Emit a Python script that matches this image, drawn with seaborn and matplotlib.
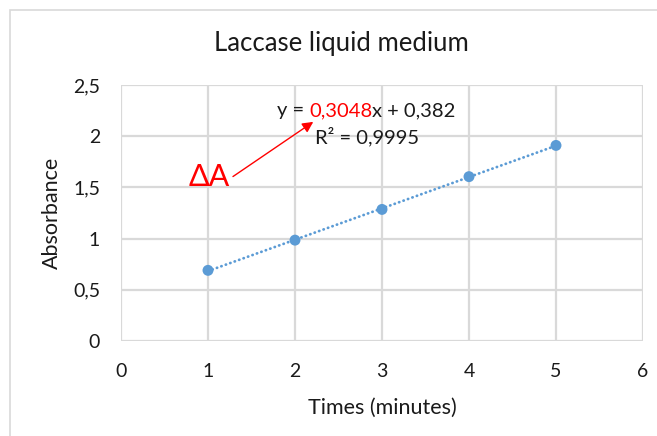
import numpy as np
import pandas as pd
import matplotlib
matplotlib.use("Agg")
import matplotlib.pyplot as plt
from matplotlib.patches import Rectangle
from matplotlib.ticker import FuncFormatter
import seaborn as sns

# data
times = [1, 2, 3, 4, 5]
absorbance = [0.69, 0.985, 1.285, 1.605, 1.91]
x_ticks = [0, 1, 2, 3, 4, 5, 6]
y_ticks = [0, 0.5, 1, 1.5, 2, 2.5]

df = pd.DataFrame({"Times (minutes)": times, "Absorbance": absorbance})

sns.set_theme(style="white")
plt.rcParams["font.family"] = ["Lato", "DejaVu Sans"]

blue = "#5b9bd5"
grid_c = "#d9d9d9"
dark = "#1a1a1a"

fig = plt.figure(figsize=(6.57, 4.36), dpi=100)
ax = fig.add_axes([121 / 657, 1 - 341 / 436, (643 - 121) / 657, (341 - 85) / 436])

# chart frame (Excel style), runs off the right and bottom edge
fig.patches.append(Rectangle((9.5 / 657, -0.1), 1.2, 1.1 - 10 / 436,
                             transform=fig.transFigure, fill=False,
                             edgecolor=grid_c, lw=1.2))

# linear trendline + points
sns.regplot(data=df, x="Times (minutes)", y="Absorbance", ax=ax, ci=None,
            scatter=False, color=blue,
            line_kws=dict(lw=2, linestyle=(0, (0.1, 1.6)),
                          dash_capstyle="round"))
sns.scatterplot(data=df, x="Times (minutes)", y="Absorbance", ax=ax,
                color=blue, s=62, edgecolor="none", zorder=3)

ax.set_xlim(0, 6)
ax.set_ylim(0, 2.5)
ax.set_xticks(x_ticks)
ax.set_yticks(y_ticks)
fmt = FuncFormatter(lambda v, p: f"{v:g}".replace(".", ","))
ax.xaxis.set_major_formatter(fmt)
ax.yaxis.set_major_formatter(fmt)
ax.grid(True, color=grid_c, lw=1.6)
ax.set_axisbelow(True)
for s in ax.spines.values():
    s.set_visible(False)
ax.tick_params(axis="both", length=0, labelsize=14, labelcolor=dark)
ax.tick_params(axis="x", pad=16)
ax.tick_params(axis="y", pad=15)

ax.set_xlabel("Times (minutes)", fontsize=15.5, color=dark, labelpad=13)
ax.set_ylabel("Absorbance", fontsize=15.5, color=dark, labelpad=8)
fig.text(341 / 657, 1 - 43 / 436, "Laccase liquid medium", ha="center",
         va="center", fontsize=18.5, color=dark)

# trendline equation, slope highlighted in red
eq_size = 14.5
t1 = ax.text(1.79, 2.197, "y = ", fontsize=eq_size, color=dark, ha="left",
             va="baseline")
t2 = ax.annotate("0,3048", xy=(1, 0), xycoords=t1, fontsize=eq_size,
                 color="red", ha="left", va="bottom")
ax.annotate("x + 0,382", xy=(1, 0), xycoords=t2, fontsize=eq_size,
            color=dark, ha="left", va="bottom")
ax.text(2.83, 1.93, "R² = 0,9995", fontsize=eq_size, color=dark,
        ha="center", va="baseline")

# delta A callout
ax.text(1.01, 1.514, "ΔA", fontsize=22, color="red", ha="center",
        va="baseline")
ax.annotate("", xy=(2.21, 2.14), xytext=(1.287, 1.606),
            arrowprops=dict(arrowstyle="-|>", color="red", lw=1,
                            mutation_scale=16, shrinkA=0, shrinkB=0))

fig.savefig("out.png", dpi=100)
